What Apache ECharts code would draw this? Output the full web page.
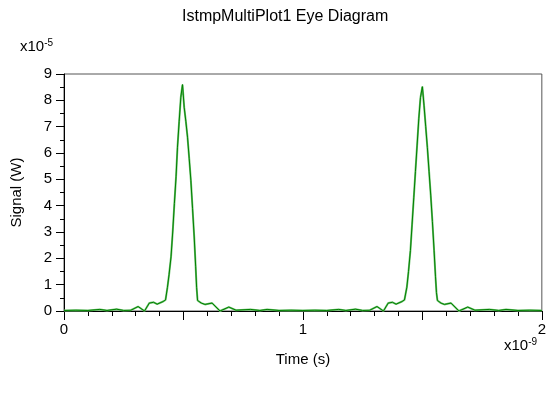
<!DOCTYPE html>
<html>
    <head>
        <meta charset="utf-8">
        <script src="https://cdn.jsdelivr.net/npm/echarts@6/dist/echarts.min.js"></script>
    </head>
    <body>
        <style>
            html, body, #main {
                margin: 0;
                width: 549px;
                height: 401px;
                background: #fff;
            }
        </style>

        <div id="main"></div>

        <script>
            // time in units of 1e-9 s, signal in units of 1e-5 W
            const times = [
                0, 0.05, 0.1, 0.15, 0.18, 0.22, 0.25, 0.28, 0.31, 0.337,
                0.357, 0.375, 0.39, 0.415, 0.425, 0.433, 0.44, 0.448, 0.455, 0.462,
                0.469, 0.475, 0.482, 0.489, 0.496, 0.503, 0.51, 0.517, 0.524, 0.531,
                0.538, 0.545, 0.551, 0.555, 0.559, 0.575, 0.59, 0.62, 0.653, 0.69,
                0.72, 0.78, 0.82, 0.85, 0.9, 0.95, 1.0, 1.05, 1.1, 1.15,
                1.18, 1.22, 1.25, 1.28, 1.31, 1.337, 1.357, 1.375, 1.39, 1.415,
                1.425, 1.435, 1.442, 1.45, 1.457, 1.464, 1.471, 1.478, 1.485, 1.492,
                1.5, 1.507, 1.514, 1.521, 1.528, 1.535, 1.542, 1.549, 1.555, 1.559,
                1.563, 1.578, 1.592, 1.62, 1.653, 1.69, 1.72, 1.78, 1.82, 1.85,
                1.9, 1.95, 2.0
            ];
            const signal = [
                0.02, 0.03, 0.02, 0.06, 0.02, 0.07, 0.02, 0.03, 0.17, 0.0,
                0.3, 0.33, 0.26, 0.36, 0.42, 0.9, 1.4, 2.06, 3.0, 4.08,
                5.1, 6.22, 7.2, 8.12, 8.6, 7.74, 7.2, 6.6, 5.8, 4.96,
                3.9, 2.81, 1.7, 0.9, 0.4, 0.3, 0.25, 0.3, 0.0, 0.15,
                0.03, 0.06, 0.02, 0.06, 0.02, 0.03, 0.02, 0.03, 0.02, 0.06,
                0.02, 0.07, 0.02, 0.03, 0.17, 0.0, 0.3, 0.33, 0.26, 0.36,
                0.42, 0.9, 1.5, 2.3, 3.3, 4.3, 5.3, 6.3, 7.3, 8.1,
                8.52, 7.8, 7.0, 6.2, 5.3, 4.4, 3.4, 2.3, 1.3, 0.7,
                0.4, 0.3, 0.25, 0.3, 0.0, 0.15, 0.03, 0.06, 0.02, 0.06,
                0.02, 0.03, 0.02
            ];
            const xLabels = ['0', '1', '2'];

            var chart = echarts.init(document.querySelector('#main'));
            var font = 'Liberation Sans, Arial, sans-serif';
            var points = times.map((t, i) => [t, signal[i]]);

            var option = {
                animation: false,
                grid: {
                    left: 64, right: 5, top: 74, bottom: 90,
                    show: true, borderColor: '#555', borderWidth: 1
                },
                xAxis: {
                    type: 'value', min: 0, max: 2, interval: 0.5,
                    axisLine: {lineStyle: {color: '#000'}},
                    axisTick: {length: 9, lineStyle: {color: '#000'}},
                    minorTick: {show: true, splitNumber: 5, length: 5, lineStyle: {color: '#000'}},
                    splitLine: {show: false},
                    axisLabel: {
                        color: '#000', fontFamily: font, fontSize: 15, margin: 11,
                        formatter: v => (Number.isInteger(v) ? xLabels[v] : '')
                    },
                    name: 'Time (s)', nameLocation: 'middle', nameGap: 41,
                    nameTextStyle: {color: '#000', fontFamily: font, fontSize: 15}
                },
                yAxis: {
                    type: 'value', min: 0, max: 9, interval: 1,
                    axisLine: {show: true, lineStyle: {color: '#000'}},
                    axisTick: {show: true, length: 8, lineStyle: {color: '#000'}},
                    minorTick: {show: true, splitNumber: 2, length: 4, lineStyle: {color: '#000'}},
                    splitLine: {show: false},
                    axisLabel: {color: '#000', fontFamily: font, fontSize: 15, margin: 12},
                    name: 'Signal (W)', nameLocation: 'middle', nameGap: 40,
                    nameTextStyle: {color: '#000', fontFamily: font, fontSize: 15}
                },
                graphic: [
                    {
                        type: 'text', left: 182, top: 9,
                        style: {text: 'IstmpMultiPlot1 Eye Diagram', fill: '#000', font: '16px ' + font}
                    },
                    {
                        type: 'text', left: 20, top: 38,
                        style: {
                            text: '{b|x10}{s|-5}', fill: '#000',
                            rich: {
                                b: {fontFamily: font, fontSize: 15, fill: '#000'},
                                s: {fontFamily: font, fontSize: 10, fill: '#000', padding: [0, 0, 8, 0]}
                            }
                        }
                    },
                    {
                        type: 'text', left: 504, top: 337,
                        style: {
                            text: '{b|x10}{s|-9}', fill: '#000',
                            rich: {
                                b: {fontFamily: font, fontSize: 15, fill: '#000'},
                                s: {fontFamily: font, fontSize: 10, fill: '#000', padding: [0, 0, 8, 0]}
                            }
                        }
                    }
                ],
                series: [
                    {
                        type: 'line', data: points, showSymbol: false,
                        lineStyle: {color: '#72c272', width: 2}
                    },
                    {
                        type: 'line', data: points, showSymbol: false,
                        lineStyle: {color: '#008000', width: 1}
                    }
                ]
            };

            chart.setOption(option);
        </script>
    </body>
</html>
